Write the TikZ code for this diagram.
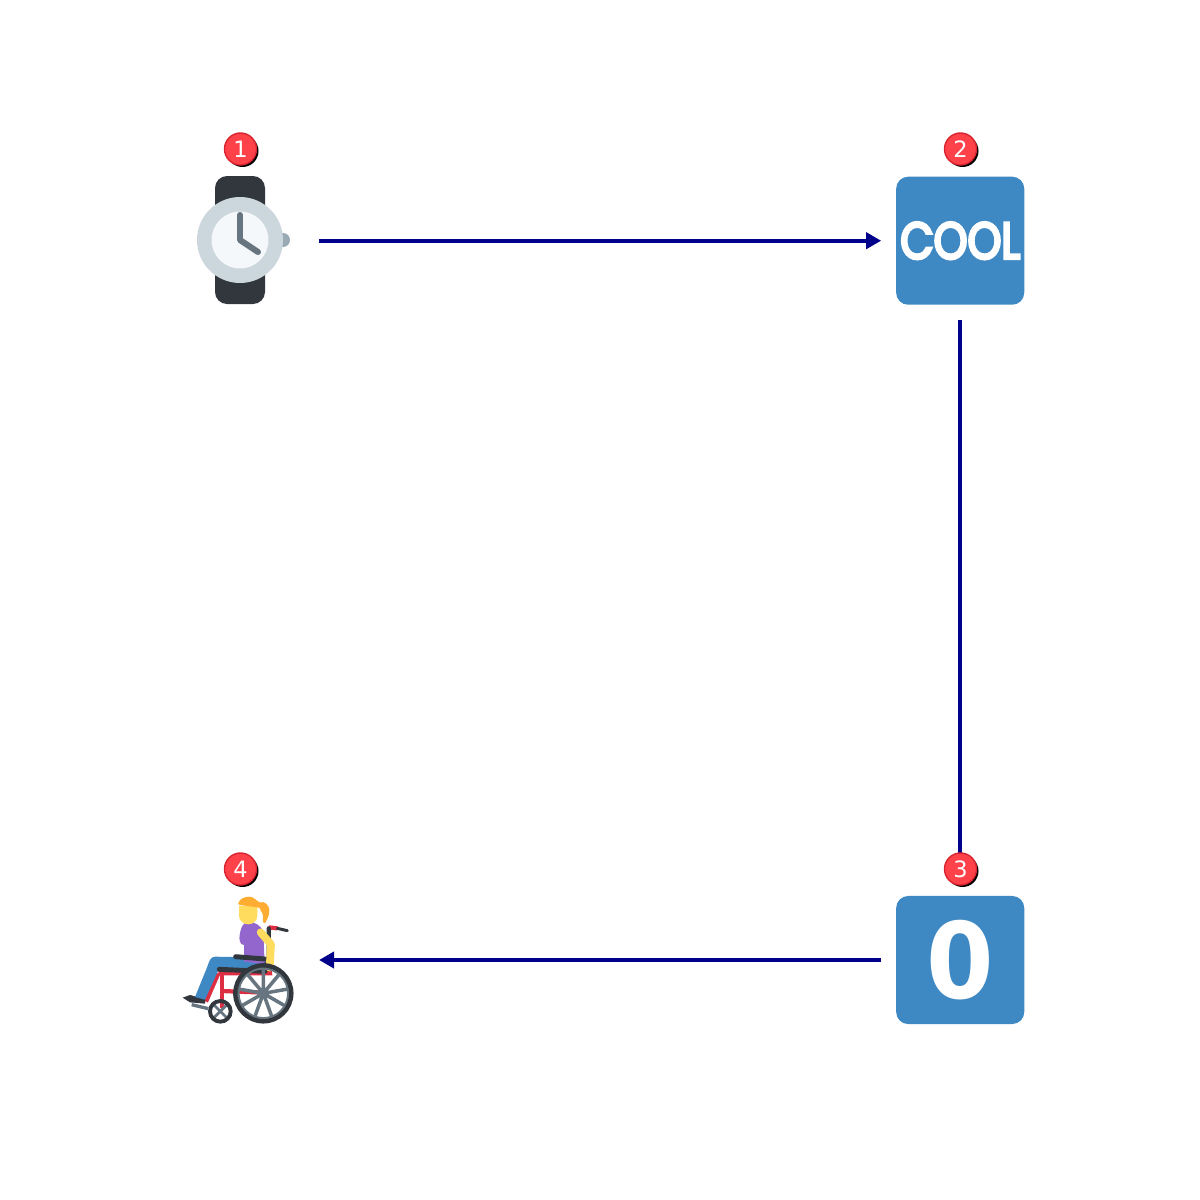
\documentclass[tikz,border=0pt]{standalone}
\usepackage{fontspec}
\setmainfont{DejaVu Sans}
\newfontfamily\coolfont[FakeBold=6]{Poppins}
\usetikzlibrary{arrows.meta,shadows}
\definecolor{flowblue}{HTML}{00008B}
\definecolor{boxblue}{HTML}{3E88C3}
\definecolor{badgered}{HTML}{FF4249}
\definecolor{badgeline}{HTML}{D8242E}
\definecolor{strapgrey}{HTML}{31373D}
\definecolor{casegrey}{HTML}{CCD6DD}
\definecolor{facegrey}{HTML}{F5F8FA}
\definecolor{handgrey}{HTML}{66757F}
\definecolor{crowngrey}{HTML}{99AAB5}
\definecolor{hairorange}{HTML}{FFAC33}
\definecolor{skinyellow}{HTML}{FFDC5D}
\definecolor{shirtpurple}{HTML}{9266CC}
\definecolor{framered}{HTML}{DD2E44}
\begin{document}
\begin{tikzpicture}[x=0.01cm,y=0.01cm]
\tikzstyle{icon}=[minimum size=1.28cm,inner sep=0pt,outer sep=.15cm]
\tikzstyle{tile}=[icon,fill=boxblue,rounded corners=.12cm,text=white]
\tikzstyle{flow}=[flowblue,line width=1.25pt,-{Triangle[length=.15cm,width=.16cm]}]
\tikzstyle{badge}=[circle,minimum size=.32cm,inner sep=0pt,fill=badgered,draw=badgeline,line width=.4pt,text=white,font=\fontsize{6.4}{7}\selectfont,drop shadow={shadow xshift=.02cm,shadow yshift=-.02cm,fill=black,opacity=1}]
\useasboundingbox (0,0) rectangle (1200,-1200);
\node [icon] (watch) at (240,-240.7) {};
\node [tile,font=\coolfont\fontsize{14.6}{16}\selectfont] (cool) at (960.2,-240.7) {\scalebox{.84}[1]{COOL}};
\node [tile,font=\bfseries\fontsize{30}{32}\selectfont] (zero) at (960.2,-960) {\scalebox{.92}[1]{0}};
\node [icon] (rider) at (240,-960) {};
\draw [flow] (watch) -- (cool);
\draw [flow] (cool) -- (zero);
\draw [flow] (zero) -- (rider);
\fill [strapgrey] (215,-176) [rounded corners=.12cm] -- (265,-176) -- (265,-304) -- (215,-304) -- cycle;
\fill [crowngrey] (283,-240) circle (7);
\fill [casegrey] (240,-240) circle (43);
\fill [facegrey] (240,-240) circle (28.5);
\draw [handgrey,line width=1.7pt,line cap=round,line join=round] (240,-215) -- (240,-240) -- (258,-252);
\begin{scope}[shift={(170,-845)},scale=1/3]
\draw [framered,line width=1.2pt] (145,-385) -- (108,-470);
\draw [framered,line width=1.2pt] (155,-385) -- (155,-490);
\draw [framered,line width=1.2pt] (155,-438) -- (285,-443);
\draw [framered,line width=1.2pt] (145,-385) -- (300,-385) -- (296,-350);
\draw [framered,line width=1.2pt] (296,-247) -- (322,-250);
\fill [strapgrey] (38,-458) -- (60,-450) -- (105,-462) -- (105,-476) -- (60,-472) -- cycle;
\draw [handgrey,line width=.95pt] (65,-479) -- (115,-491);
\fill [boxblue] (290,-338) -- (135,-335) to[out=180,in=70] (112,-365) -- (75,-456) -- (105,-464) -- (145,-376) -- (290,-372) -- cycle;
\draw [strapgrey,line width=1.4pt,line cap=round] (148,-373) -- (285,-379);
\draw [strapgrey,line width=1.2pt,line cap=round] (296,-250) -- (296,-350) -- (280,-365);
\draw [strapgrey,line width=.85pt,line cap=round] (322,-250) -- (352,-257);
\fill [shirtpurple] (235,-231) to[out=0,in=120] (280,-258) -- (284,-358) -- (222,-350) -- (222,-300) to[out=180,in=-100] (209,-270) to[out=80,in=180] cycle;
\draw [strapgrey,line width=1.4pt,line cap=round] (197,-335) -- (285,-342);
\draw [skinyellow,line width=2.2pt,line cap=round,line join=round] (272,-262) -- (303,-298) -- (299,-368);
\fill [skinyellow] (207,-182) -- (262,-182) -- (262,-212) to[out=-90,in=0] (235,-238) to[out=180,in=-90] (207,-212) -- cycle;
\fill [hairorange] (204,-178) to[out=80,in=180] (238,-155) to[out=0,in=160] (270,-172) to[out=20,in=90] (298,-195) to[out=-90,in=60] (285,-235) to[out=180,in=-60] (277,-205) -- (268,-188) -- (225,-182) -- cycle;
\draw [handgrey,line width=1pt] \foreach \a in {10,50,90,130,170,210,250,290,330} {(280,-445) -- ++(\a:76)};
\draw [handgrey,line width=.7pt] (280,-445) circle (75);
\draw [strapgrey,line width=1.25pt] (280,-445) circle (84);
\draw [handgrey,line width=.8pt] (151,-499) ++(45:28) -- ++(225:56) (151,-499) ++(135:28) -- ++(315:56);
\draw [strapgrey,line width=1.1pt] (151,-499) circle (31);
\end{scope}
\node [badge] (badgeA) at (240.5,-149) {1};
\node [badge] (badgeB) at (960.5,-149) {2};
\node [badge] (badgeC) at (960.5,-869) {3};
\node [badge] (badgeD) at (240.5,-869) {4};
\end{tikzpicture}
\end{document}
